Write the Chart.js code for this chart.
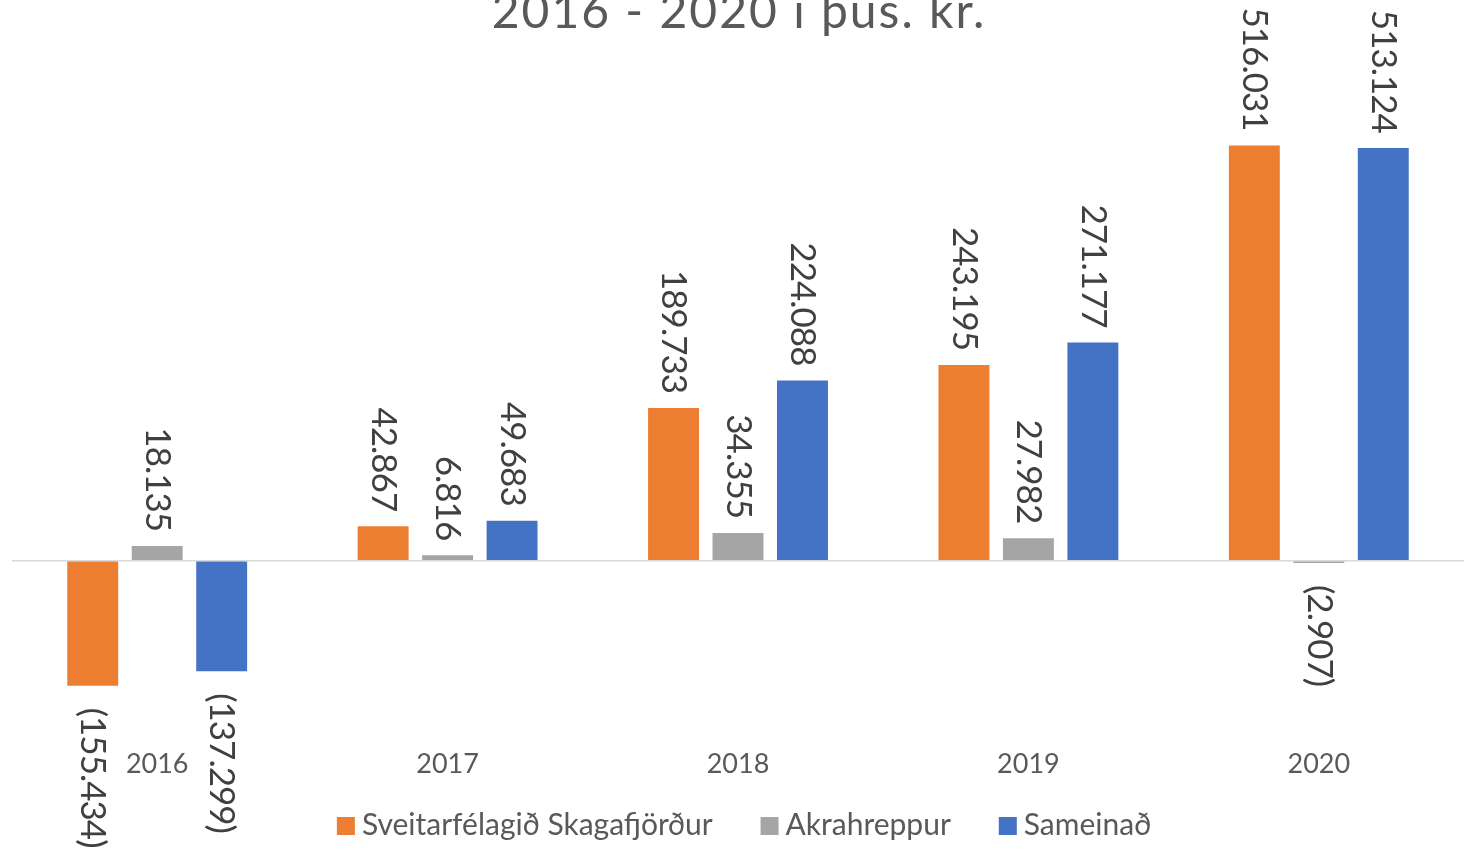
<!DOCTYPE html>
<html>
<head>
<meta charset="utf-8">
<script src="https://cdn.jsdelivr.net/npm/chart.js@4.4.0/dist/chart.umd.min.js"></script>
<style>
  html, body { margin: 0; padding: 0; background: #fff; overflow: hidden; }
  #wrap { position: relative; width: 1473px; height: 855px; }
</style>
</head>
<body>
<div id="wrap"><canvas id="chart" width="1473" height="855"></canvas></div>
<script>
// values in þús. kr.
const years = ['2016', '2017', '2018', '2019', '2020'];
const skagafjordur = [-155434, 42867, 189733, 243195, 516031];
const akrahreppur = [18135, 6816, 34355, 27982, -2907];
const sameinad = [-137299, 49683, 224088, 271177, 513124];
const titleText = '2016 - 2020 í þús. kr.';

const textColor = '#595959';
const fontFamily = 'Lato, "Open Sans", sans-serif';

function formatValue(v) {
    const s = Math.abs(v).toString().replace(/\B(?=(\d{3})+(?!\d))/g, '.');
    return v < 0 ? '(' + s + ')' : s;
}

// title drawn at a fixed spot, the top of it is cut off like in the original
const titlePlugin = {
    id: 'cutTitle',
    afterDraw(chart) {
        const ctx = chart.ctx;
        ctx.save();
        ctx.font = '48px ' + fontFamily;
        ctx.letterSpacing = '2px';
        ctx.fillStyle = textColor;
        ctx.textAlign = 'center';
        ctx.textBaseline = 'alphabetic';
        ctx.fillText(titleText, 739, 28);
        ctx.restore();
    }
};

// legend at the bottom, drawn by hand so the spacing can follow the original
const legendPlugin = {
    id: 'bottomLegend',
    afterDraw(chart) {
        const ctx = chart.ctx;
        const box = 18, gap = 7, itemGap = 48, cy = 825;
        ctx.save();
        ctx.font = '30px ' + fontFamily;
        ctx.textBaseline = 'middle';
        ctx.textAlign = 'left';
        const items = chart.data.datasets.map(ds => ({
            text: ds.label,
            color: ds.backgroundColor,
            w: box + gap + ctx.measureText(ds.label).width
        }));
        const total = items.reduce((s, it) => s + it.w, 0) + itemGap * (items.length - 1);
        let x = 744 - total / 2;
        items.forEach(it => {
            ctx.fillStyle = it.color;
            ctx.fillRect(x, cy - box / 2 + 1, box, box);
            ctx.fillStyle = textColor;
            ctx.fillText(it.text, x + box + gap, cy);
            x += it.w + itemGap;
        });
        ctx.restore();
    }
};

// rotated value labels outside the bar ends
const valueLabels = {
    id: 'valueLabels',
    afterDatasetsDraw(chart) {
        const ctx = chart.ctx;
        ctx.save();
        ctx.font = '35px ' + fontFamily;
        ctx.letterSpacing = '-1px';
        ctx.fillStyle = '#404040';
        ctx.textBaseline = 'middle';
        chart.data.datasets.forEach((ds, i) => {
            const meta = chart.getDatasetMeta(i);
            meta.data.forEach((bar, j) => {
                const v = ds.data[j];
                ctx.save();
                if (v >= 0) {
                    ctx.translate(bar.x, bar.y - 15);
                    ctx.rotate(Math.PI / 2);
                    ctx.textAlign = 'right';
                } else {
                    ctx.translate(bar.x, bar.y + 22);
                    ctx.rotate(Math.PI / 2);
                    ctx.textAlign = 'left';
                }
                ctx.fillText(formatValue(v), 0, 0);
                ctx.restore();
            });
        });
        ctx.restore();
    }
};

const ctx = document.getElementById('chart').getContext('2d');
new Chart(ctx, {
    type: 'bar',
    data: {
        labels: years,
        datasets: [
            { label: 'Sveitarfélagið Skagafjörður', data: skagafjordur, backgroundColor: '#ED7D31' },
            { label: 'Akrahreppur', data: akrahreppur, backgroundColor: '#A5A5A5' },
            { label: 'Sameinað', data: sameinad, backgroundColor: '#4472C4' }
        ]
    },
    options: {
        responsive: false,
        animation: false,
        categoryPercentage: 0.666,
        barPercentage: 0.79,
        layout: { padding: { left: 12, right: 9, top: 0, bottom: 61 } },
        plugins: {
            legend: { display: false },
            title: { display: false },
            tooltip: { enabled: false }
        },
        scales: {
            x: {
                grid: { display: false },
                border: { display: false },
                ticks: {
                    color: textColor,
                    padding: 14,
                    font: { family: fontFamily, size: 27 }
                }
            },
            y: {
                min: -205000,
                max: 697000,
                border: { display: false },
                grid: {
                    drawTicks: false,
                    lineWidth: 1.5,
                    color: (c) => c.tick && c.tick.value === 0 ? '#D9D9D9' : 'rgba(0,0,0,0)'
                },
                ticks: { display: false, stepSize: 1000 }
            }
        }
    },
    plugins: [titlePlugin, valueLabels, legendPlugin]
});
</script>
</body>
</html>
